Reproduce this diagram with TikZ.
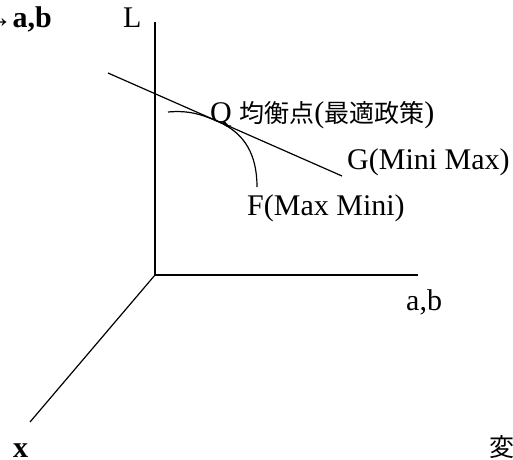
\documentclass[tikz,border=0pt]{standalone}
\usepackage{fontspec}
\setmainfont{Liberation Serif}
\newfontfamily\cjk{Noto Sans CJK JP}

\tikzset{
  axis/.style={line width=1.2pt},
  lbl/.style={inner sep=0pt, font=\fontsize{30}{33}\selectfont},
}

\begin{document}
\begin{tikzpicture}[x=1pt, y=-1pt]
                    \useasboundingbox (0,0) rectangle (513,459);

                    % Axes
                    \coordinate (O) at (155,275);
                    \coordinate (Ltop) at (155,22);
                    \coordinate (abend) at (418,275);
                    \coordinate (xend) at (30,422);
                    \draw[axis] (O) -- (Ltop);
                    \draw[axis] (O) -- (abend);
                    \draw[axis] (O) -- (xend);

                    % Line G
                    \coordinate (G1) at (108,73);
                    \coordinate (G2) at (342,176);
                    \draw[axis] (G1) -- (G2);

                    % Curve F, tangent to G at Q
                    \coordinate (F1) at (168,112);
                    \coordinate (Q) at (219,122);
                    \coordinate (F2) at (257,187);
                    \draw[axis] (F1) .. controls (190,110) and (203,115) .. (Q)
                                     .. controls (245,133.5) and (257,155) .. (F2);

                    % Labels
                    \node[lbl, anchor=base east, font=\fontsize{30}{33}\selectfont\bfseries] (abtop) at (52,27) {→a,b};
                    \node[lbl, anchor=base west] (L) at (123,27) {L};
                    \node[lbl, anchor=base west] (Qlbl) at (210,122) {Q {\cjk\fontsize{25}{28}\selectfont 均衡点}({\cjk\fontsize{25}{28}\selectfont 最適政策})};
                    \node[lbl, anchor=base west] (Glbl) at (347,169) {G(Mini Max)};
                    \node[lbl, anchor=base west] (Flbl) at (247,215) {F(Max Mini)};
                    \node[lbl, anchor=base west] (ab) at (406,310) {a,b};
                    \node[lbl, anchor=base west, font=\fontsize{30}{33}\selectfont\bfseries] (x) at (13,457) {x};
                    \node[lbl, anchor=west, font=\cjk\fontsize{25}{28}\selectfont] (hen) at (489,447) {変};
\end{tikzpicture}
\end{document}
